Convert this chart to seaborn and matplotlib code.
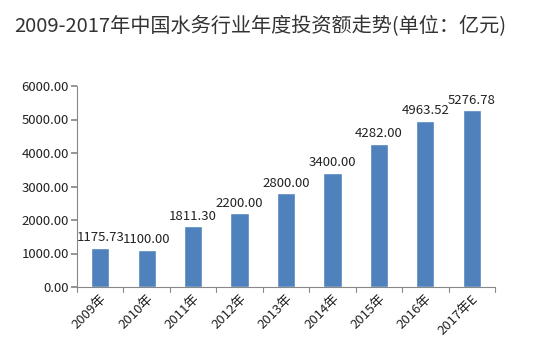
import matplotlib
matplotlib.use("Agg")
import matplotlib.pyplot as plt
import seaborn as sns
import pandas as pd

years = ["2009年", "2010年", "2011年", "2012年", "2013年", "2014年", "2015年", "2016年", "2017年E"]
values = [1175.73, 1100.00, 1811.30, 2200.00, 2800.00, 3400.00, 4282.00, 4963.52, 5276.78]
yticks = [0, 1000, 2000, 3000, 4000, 5000, 6000]
title = "2009-2017年中国水务行业年度投资额走势(单位：亿元)"

sns.set_theme(style="white")
plt.rcParams['font.family'] = ['Noto Sans CJK SC', 'DejaVu Sans']

df = pd.DataFrame({"year": years, "value": values})
fig = plt.figure(figsize=(5.57, 3.41), dpi=100)
ax = fig.add_axes([77/557, 1 - 287/341, (495-77)/557, (287-86)/341])
sns.barplot(data=df, x="year", y="value", color="#4F81BD", width=0.39, saturation=1, ax=ax)
ax.set_ylim(0, 6000)
ax.set_xlim(-0.5, len(years) - 0.5)
ax.set_yticks(yticks)
ax.set_yticklabels([f"{v:.2f}" for v in yticks], fontsize=9.5, color="#222222")
ax.set_xticks(range(len(years)))
ax.set_xticklabels(years, rotation=45, ha="right", rotation_mode="anchor", fontsize=9.5, color="#222222")
ax.set_xlabel("")
ax.set_ylabel("")
for s in ["top", "right"]:
    ax.spines[s].set_visible(False)
for s in ["left", "bottom"]:
    ax.spines[s].set_color("#888888")
    ax.spines[s].set_linewidth(0.8)
ax.tick_params(axis="y", length=4, color="#888888", left=True, pad=2)
ax.tick_params(axis="x", length=0, pad=4)
# category separator ticks on x axis
for b in [i - 0.5 for i in range(len(years) + 1)]:
    ax.plot([b, b], [0, -150], color="#888888", lw=0.8, clip_on=False)
for i, v in enumerate(values):
    ax.text(i, v + 110, f"{v:.2f}", ha="center", va="bottom", fontsize=9.5, color="#222222")
fig.text(260/557, 1 - 27/341, title, ha="center", va="center", fontsize=14.5, color="#333333")
fig.savefig("out.png", dpi=100)
